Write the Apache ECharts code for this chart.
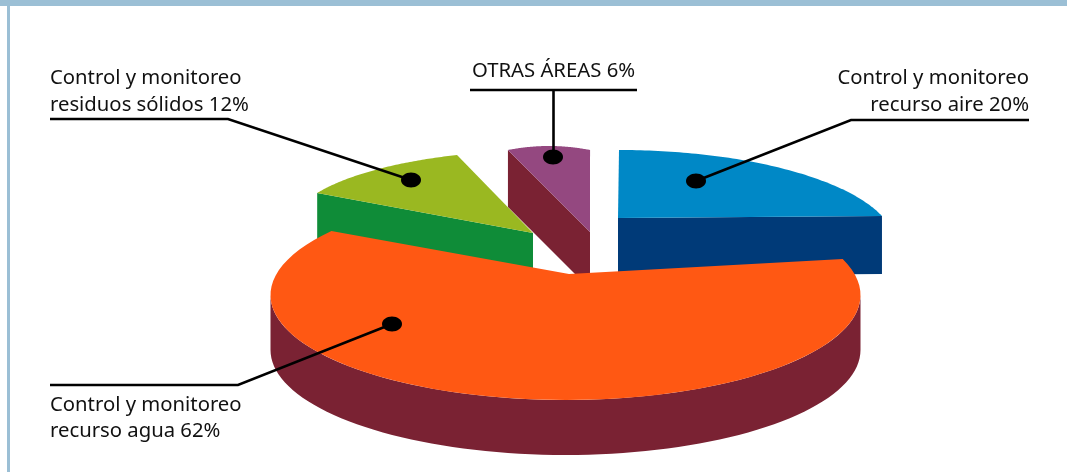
<!DOCTYPE html>
<html>
<head>
<meta charset="utf-8">
<title>Control y monitoreo</title>
<style>
  html, body { margin: 0; padding: 0; background: #fff; }
  #chart { width: 1067px; height: 472px; }
</style>
<script src="https://cdn.jsdelivr.net/npm/echarts@6/dist/echarts.min.js"></script>
</head>
<body>
<div id="chart"></div>
<script>
// draw order: back slices first, orange last
var categories = ['Control y monitoreo recurso aire', 'OTRAS ÁREAS', 'Control y monitoreo residuos sólidos', 'Control y monitoreo recurso agua'];
var values = [20, 6, 12, 62];
var labelLines = [
    ['Control y monitoreo', 'recurso aire '],
    ['OTRAS ÁREAS '],
    ['Control y monitoreo', 'residuos sólidos '],
    ['Control y monitoreo', 'recurso agua ']
];

// hand drawn 3d look of the original: every slice has its own ellipse and apex
var sliceStyle = [
    { top: '#0088c6', side: '#003a78', ax: 618, ay: 218, cx: 619, cy: 245.5, rx: 276.5, ry: 95.5, start: 90, stretch: 1, depth: 58, wall: 'end' },
    { top: '#944880', side: '#7a2233', ax: 590, ay: 232, cx: 549, cy: 372, rx: 219, ry: 226, start: 100.8, stretch: 1, depth: 57, wall: 'start' },
    { top: '#9ab821', side: '#0f8c38', ax: 533, ay: 233, cx: 543.9, cy: 228, rx: 254, ry: 77.7, start: 153.2, stretch: 1, depth: 55, wall: 'start' },
    { top: '#ff5813', side: '#7a2233', ax: 569, ay: 274, cx: 565.5, cy: 295, rx: 295, ry: 105, start: 20, stretch: 1.064, depth: 55, wall: 'rim' }
];
var leaderStyle = [
    { path: [[1029, 120], [851, 120], [696, 181]], dot: [696, 181] },
    { path: [[470, 90], [637, 90]], stem: [[553.5, 90], [553.5, 157]], dot: [553, 157] },
    { path: [[50, 119], [228, 119], [411, 180]], dot: [411, 180] },
    { path: [[50, 385], [238, 385], [392, 324]], dot: [392, 324] }
];
var textStyle = [
    { x: 1029, y: [78, 105], align: 'right' },
    { x: 553.5, y: [71], align: 'center' },
    { x: 50, y: [78, 105], align: 'left' },
    { x: 50, y: [405, 431], align: 'left' }
];

function rimPoint(s, deg) {
    var t = deg * Math.PI / 180;
    return [s.cx + s.rx * Math.cos(t), s.cy - s.ry * Math.sin(t)];
}

function rimPoints(s, from, to) {
    var pts = [];
    var n = 80;
    for (var i = 0; i <= n; i++) {
        pts.push(rimPoint(s, from + (to - from) * i / n));
    }
    return pts;
}

function drop(p, d) {
    return [p[0], p[1] + d];
}

function renderSlice(params, api) {
    var s = sliceStyle[params.dataIndex];
    var end = s.start - api.value(0) * 3.6 * s.stretch;
    var apex = [s.ax, s.ay];
    var rim = rimPoints(s, s.start, end);
    var wall;
    if (s.wall === 'rim') {
        var front = rimPoints(s, 0, -180);
        wall = front.concat(front.slice().reverse().map(function (p) { return drop(p, s.depth); }));
    } else {
        var p = s.wall === 'end' ? rim[rim.length - 1] : rim[0];
        wall = [apex, p, drop(p, s.depth), drop(apex, s.depth)];
    }
    return {
        type: 'group',
        children: [
            { type: 'polygon', shape: { points: wall }, style: { fill: s.side } },
            { type: 'polygon', shape: { points: [apex].concat(rim) }, style: { fill: s.top } }
        ]
    };
}

function renderLabel(params, api) {
    var i = params.dataIndex;
    var l = leaderStyle[i];
    var t = textStyle[i];
    var children = [
        { type: 'polyline', shape: { points: l.path }, style: { stroke: '#000', lineWidth: 2.6, fill: null } },
        { type: 'ellipse', shape: { cx: l.dot[0], cy: l.dot[1], rx: 10, ry: 7.5 }, style: { fill: '#000' } }
    ];
    if (l.stem) {
        children.push({ type: 'polyline', shape: { points: l.stem }, style: { stroke: '#000', lineWidth: 2.6, fill: null } });
    }
    labelLines[i].forEach(function (line, k) {
        var last = k === labelLines[i].length - 1;
        children.push({
            type: 'text',
            style: {
                text: last ? line + api.value(0) + '%' : line,
                x: t.x,
                y: t.y[k],
                align: t.align,
                verticalAlign: 'middle',
                fill: '#111',
                font: '20.3px "Noto Sans"'
            }
        });
    });
    return { type: 'group', children: children };
}

var myChart = echarts.init(document.getElementById('chart'), null, { renderer: 'canvas' });
myChart.setOption({
    animation: false,
    backgroundColor: '#fff',
    graphic: [
        { type: 'rect', shape: { x: 0, y: 0, width: 1067, height: 6 }, style: { fill: '#9bbfd5' } },
        { type: 'rect', shape: { x: 7, y: 0, width: 3, height: 472 }, style: { fill: '#9bbfd5' } }
    ],
    series: [
        { type: 'custom', name: 'slices', coordinateSystem: 'none', renderItem: renderSlice, data: values, z: 2 },
        { type: 'custom', name: 'labels', coordinateSystem: 'none', renderItem: renderLabel, data: values, z: 3 }
    ]
});
</script>
</body>
</html>
